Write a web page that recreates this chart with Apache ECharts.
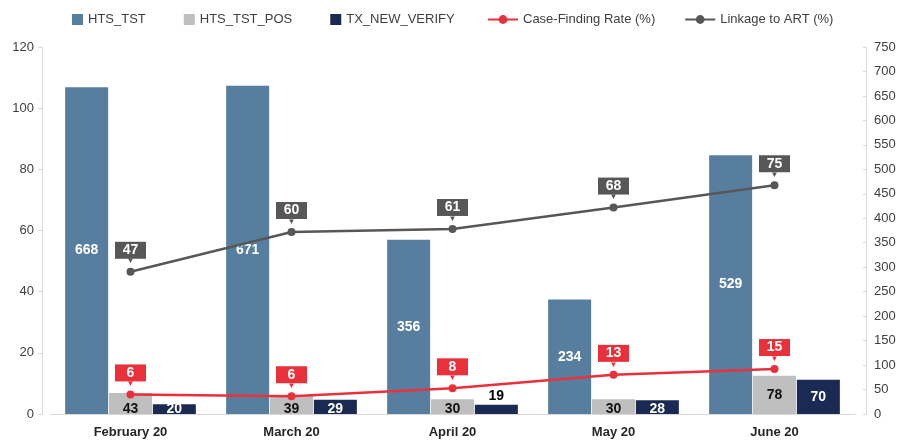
<!DOCTYPE html>
<html>
<head>
<meta charset="utf-8">
<script src="https://cdn.jsdelivr.net/npm/echarts@6/dist/echarts.min.js"></script>
<style>html,body{margin:0;padding:0;background:#fff}#c{width:901px;height:440px}</style>
</head>
<body>
<div id="c"></div>
<script>
var categories = ['February 20', 'March 20', 'April 20', 'May 20', 'June 20'];
var htsTst = [668, 671, 356, 234, 529];
var htsTstPos = [43, 39, 30, 30, 78];
var txNewVerify = [20, 29, 19, 28, 70];
var caseFindingRate = [6.4, 5.8, 8.4, 12.8, 14.7];
var linkageToArt = [46.5, 59.5, 60.5, 67.5, 74.8];
var leftTicks = [0, 120, 20];
var rightTicks = [0, 750, 50];

var FONT = '"Liberation Sans", Arial, sans-serif';
var C_HTS = '#587e9f', C_POS = '#bfbfbf', C_TX = '#1a2a52', C_RED = '#e8313a', C_GRAY = '#575757';

function calloutLabel(bg) {
  return {
    show: true, position: 'top', distance: 4,
    formatter: function (p) { return '{a|' + Math.round(p.value) + '}\n{t|▼}'; },
    rich: {
      a: { backgroundColor: bg, color: '#fff', fontWeight: 'bold', fontSize: 14, fontFamily: FONT,
           width: 31, height: 17, align: 'center', lineHeight: 17 },
      t: { color: bg, fontSize: 8, lineHeight: 5, height: 5, align: 'center', fontFamily: FONT }
    }
  };
}

function smallBarData(values, special) {
  return values.map(function (v, i) {
    if (special && special[i]) return { value: v, label: special[i] };
    if (v < 60) return { value: v, label: { position: 'insideBottom', distance: -2 } };
    return v;
  });
}
var posData = smallBarData(htsTstPos);
var txData = smallBarData(txNewVerify, { 2: { position: 'top', distance: 2, color: '#000' } });

var chart = echarts.init(document.getElementById('c'), null, { renderer: 'canvas' });
chart.setOption({
  animation: false,
  textStyle: { fontFamily: FONT },
  legend: [
    {
      top: 8, left: 67, itemGap: 38, itemWidth: 11, itemHeight: 11,
      textStyle: { fontSize: 13, color: '#404040', fontFamily: FONT },
      data: [
        { name: 'HTS_TST', icon: 'rect' },
        { name: 'HTS_TST_POS', icon: 'rect' },
        { name: 'TX_NEW_VERIFY', icon: 'rect' }
      ]
    },
    {
      top: 8, left: 482, itemGap: 29, itemWidth: 30, itemHeight: 11,
      textStyle: { fontSize: 13, color: '#404040', fontFamily: FONT },
      data: [
        { name: 'Case-Finding Rate (%)' },
        { name: 'Linkage to ART (%)' }
      ]
    }
  ],
  grid: { left: 50, right: 46, top: 47, bottom: 26 },
  xAxis: {
    type: 'category', data: categories,
    axisLine: { lineStyle: { color: '#d9d9d9' } },
    axisTick: { alignWithLabel: true, length: 4, lineStyle: { color: '#d9d9d9' } },
    axisLabel: { color: '#262626', fontWeight: 'bold', fontSize: 13, margin: 12, fontFamily: FONT }
  },
  yAxis: [
    {
      type: 'value', min: leftTicks[0], max: leftTicks[1], interval: leftTicks[2], offset: 8,
      axisLine: { show: true, lineStyle: { color: '#d9d9d9' } },
      axisTick: { show: true, length: 4, lineStyle: { color: '#d9d9d9' } },
      splitLine: { show: false },
      axisLabel: { color: '#404040', fontSize: 13, margin: 8, fontFamily: FONT }
    },
    {
      type: 'value', min: rightTicks[0], max: rightTicks[1], interval: rightTicks[2], offset: 11,
      axisLine: { show: true, lineStyle: { color: '#d9d9d9' } },
      axisTick: { show: true, inside: true, length: 3, lineStyle: { color: '#d9d9d9' } },
      splitLine: { show: false },
      axisLabel: { color: '#404040', fontSize: 13, margin: 8, fontFamily: FONT }
    }
  ],
  series: [
    {
      name: 'HTS_TST', type: 'bar', yAxisIndex: 1, data: htsTst, barWidth: 43, barGap: '2%',
      itemStyle: { color: C_HTS },
      label: { show: true, position: 'inside', color: '#fff', fontWeight: 'bold', fontSize: 14, fontFamily: FONT }
    },
    {
      name: 'HTS_TST_POS', type: 'bar', yAxisIndex: 1, data: posData, barWidth: 43, barGap: '2%',
      itemStyle: { color: C_POS },
      label: { show: true, position: 'inside', color: '#111', fontWeight: 'bold', fontSize: 14, fontFamily: FONT }
    },
    {
      name: 'TX_NEW_VERIFY', type: 'bar', yAxisIndex: 1, data: txData, barWidth: 43, barGap: '2%',
      itemStyle: { color: C_TX },
      label: { show: true, position: 'inside', color: '#fff', fontWeight: 'bold', fontSize: 14, fontFamily: FONT }
    },
    {
      name: 'Case-Finding Rate (%)', type: 'line', yAxisIndex: 0, data: caseFindingRate,
      symbol: 'circle', symbolSize: 8, z: 5,
      lineStyle: { color: C_RED, width: 2.5 }, itemStyle: { color: C_RED },
      label: calloutLabel(C_RED)
    },
    {
      name: 'Linkage to ART (%)', type: 'line', yAxisIndex: 0, data: linkageToArt,
      symbol: 'circle', symbolSize: 8, z: 5,
      lineStyle: { color: C_GRAY, width: 2.5 }, itemStyle: { color: C_GRAY },
      label: calloutLabel(C_GRAY)
    }
  ]
});
</script>
</body>
</html>
